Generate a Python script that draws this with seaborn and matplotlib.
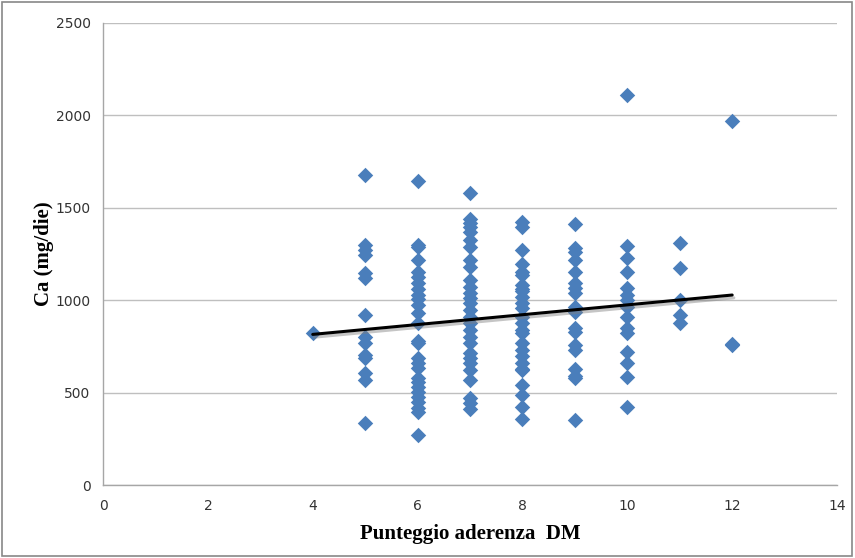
import numpy as np
import pandas as pd
import matplotlib
matplotlib.use("Agg")
import matplotlib.pyplot as plt
import matplotlib.patheffects as pe
from matplotlib.patches import Rectangle
import seaborn as sns

# Calcium intake (mg/day) grouped by Mediterranean-diet adherence score
ca_4 = [822]
ca_5 = [1677, 1297, 1272, 1245, 1145, 1118, 920, 803, 770, 703, 685, 604, 568, 334]
ca_6 = [1647, 1300, 1290, 1217, 1154, 1127, 1091, 1060, 1030, 1005, 974, 929, 875,
        780, 770, 685, 658, 631, 577, 559, 532, 505, 478, 451, 415, 395, 271]
ca_7 = [1582, 1440, 1420, 1398, 1371, 1326, 1290, 1218, 1181, 1109, 1073, 1037, 1010,
        983, 947, 911, 875, 839, 803, 767, 713, 685, 658, 622, 568, 469, 442, 410]
ca_8 = [1425, 1398, 1272, 1195, 1150, 1136, 1082, 1060, 1050, 1019, 983, 956, 911,
        875, 839, 820, 767, 730, 700, 658, 630, 622, 540, 485, 424, 355]
ca_9 = [1412, 1280, 1263, 1218, 1154, 1091, 1064, 1037, 965, 938, 848, 830, 758,
        730, 630, 590, 580, 352]
ca_10 = [2110, 1295, 1227, 1154, 1064, 1028, 1001, 965, 911, 848, 821, 721, 658, 586, 424]
ca_11 = [1308, 1173, 1001, 920, 878]
ca_12 = [1970, 765, 755]

scores = [4, 5, 6, 7, 8, 9, 10, 11, 12]
groups = [ca_4, ca_5, ca_6, ca_7, ca_8, ca_9, ca_10, ca_11, ca_12]

# Linear trend line endpoints
trend_x = [4, 12]
trend_y = [815, 1028]

x_ticks = [0, 2, 4, 6, 8, 10, 12, 14]
y_ticks = [0, 500, 1000, 1500, 2000, 2500]

df = pd.DataFrame({
    "score": np.concatenate([[s] * len(g) for s, g in zip(scores, groups)]),
    "ca": np.concatenate(groups),
})
trend = pd.DataFrame({"score": trend_x, "ca": trend_y})

sns.set_theme(style="white")
plt.rcParams["font.family"] = ["DejaVu Sans"]

fig = plt.figure(figsize=(8.55, 5.58), dpi=100)
ax = fig.add_axes([0.1205, 0.1308, 0.979 - 0.1205, 0.9588 - 0.1308])

blue = "#4A7EBB"
sns.scatterplot(data=df, x="score", y="ca", marker="D", s=62, color=blue,
                edgecolor=blue, linewidth=0, ax=ax, zorder=3)
sns.lineplot(data=trend, x="score", y="ca", color="black", lw=2.2, ax=ax, zorder=4,
             path_effects=[pe.SimpleLineShadow(offset=(1.2, -2), shadow_color="gray", alpha=0.45),
                           pe.Normal()])

ax.set_xlim(0, 14)
ax.set_ylim(0, 2500)
ax.set_xticks(x_ticks)
ax.set_yticks(y_ticks)

tick_font = dict(family=["Liberation Sans Narrow", "DejaVu Sans"], size=10, color="#333333")
ax.set_xticklabels([str(t) for t in x_ticks], **tick_font)
ax.set_yticklabels([str(t) for t in y_ticks], **tick_font)
ax.tick_params(axis="x", length=0, pad=10)
ax.tick_params(axis="y", length=0, pad=9)

ax.grid(axis="y", color="#BFBFBF", lw=1)
ax.set_axisbelow(True)
for side in ["top", "right"]:
    ax.spines[side].set_visible(False)
for side in ["left", "bottom"]:
    ax.spines[side].set_color("#A6A6A6")
    ax.spines[side].set_linewidth(1)

label_font = dict(family=["Liberation Serif", "DejaVu Serif"], size=15, weight="bold", color="black")
ax.set_xlabel("Punteggio aderenza  DM", labelpad=8, **label_font)
ax.set_ylabel("Ca (mg/die)", labelpad=1, **label_font)

fig.patches.append(Rectangle((0.002, 0.004), 0.994, 0.992, transform=fig.transFigure,
                             fill=False, edgecolor="#888888", lw=1.2))

fig.savefig("out.png", dpi=100)
